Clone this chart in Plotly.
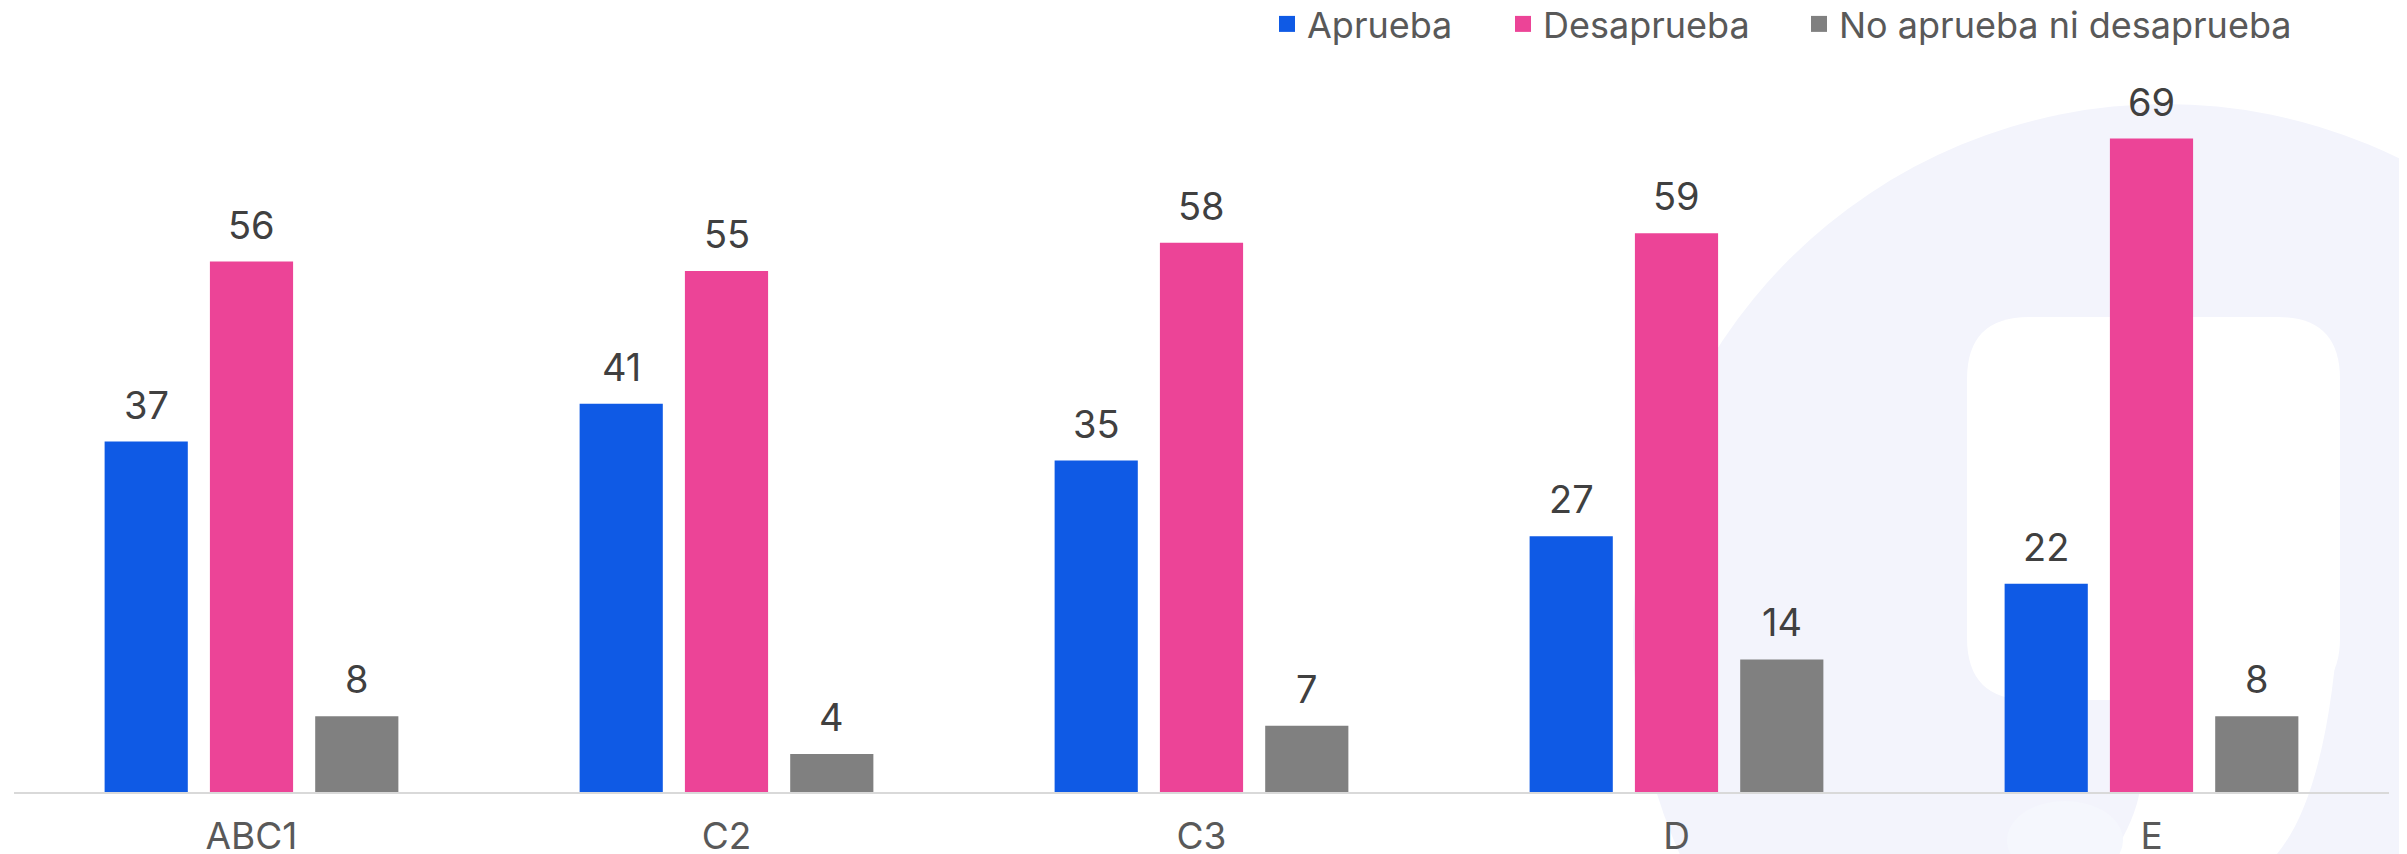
import plotly.graph_objects as go

# ---------------- data ----------------
categories = ["ABC1", "C2", "C3", "D", "E"]
aprueba = [37, 41, 35, 27, 22]
desaprueba = [56, 55, 58, 59, 69]
ni_ni = [8, 4, 7, 14, 8]
series_names = ["Aprueba", "Desaprueba", "No aprueba ni desaprueba"]
series_values = [aprueba, desaprueba, ni_ni]
series_colors = ["#0F5AE5", "#EC4497", "#808080"]

# ---------------- layout geometry (pixels) ----------------
# the page body has an 8px default margin, so the figure is shifted by OFF
OFF = 8
W, H = 2407 - OFF, 854 - OFF
ML, MR, MT, MB = 14 - OFF, 18, 40 - OFF, 62
PW, PH = W - ML - MR, H - MT - MB
BARGAP = 0.335
BARGROUPGAP = 0.21
YMAX = 79.4
FONT = "Inter, Roboto, Arial, sans-serif"
LEGEND_LEFT = [1279, 1515, 1811]  # page x of each legend swatch


def px(x):
    # page pixel x -> paper coordinate
    return (x - OFF - ML) / PW


def py(y):
    # page pixel y -> paper coordinate
    return (H - MB - (y - OFF)) / PH


fig = go.Figure()
legend_ids = ["legend", "legend2", "legend3"]

for name, vals, col, lid in zip(series_names, series_values, series_colors, legend_ids):
    fig.add_trace(go.Bar(
        x=categories, y=vals, name=name, marker=dict(color=col, line=dict(width=0)),
        showlegend=False, legendgroup=name, hoverinfo="x+y+name",
    ))
    fig.add_trace(go.Scatter(
        x=[None], y=[None], mode="markers", name=name, legendgroup=name, legend=lid,
        marker=dict(symbol="square", size=21, color=col), showlegend=True,
    ))

# data labels above bars
slot = (1 - BARGAP) * PW / len(categories) / len(series_names)
annotations = []
for i, vals in enumerate(series_values):
    for cat, v in zip(categories, vals):
        annotations.append(dict(
            x=cat, y=v, xref="x", yref="y", text=str(v), showarrow=False,
            xshift=(i - 1) * slot, yshift=12, yanchor="bottom",
            font=dict(family=FONT, size=38, color="#404040"),
        ))

# background watermark (logo-like shapes)
lav = "#F3F4FC"
shapes = [
    dict(type="circle", xref="paper", yref="paper", layer="below",
         x0=px(2165 - 532), x1=px(2165 + 532), y0=py(636 + 532), y1=py(636 - 532),
         fillcolor=lav, line=dict(width=0)),
]


def P(x, y):
    return f"{px(x):.5f},{py(y):.5f}"


rx0, rx1, ry0, ry1, rr = 1967, 2340, 317, 700, 62
rect_path = (f"M{P(rx0 + rr, ry0)} L{P(rx1 - rr, ry0)} Q{P(rx1, ry0)} {P(rx1, ry0 + rr)} "
             f"L{P(rx1, ry1 - rr)} Q{P(rx1, ry1)} {P(rx1 - rr, ry1)} "
             f"L{P(rx0 + rr, ry1)} Q{P(rx0, ry1)} {P(rx0, ry1 - rr)} "
             f"L{P(rx0, ry0 + rr)} Q{P(rx0, ry0)} {P(rx0 + rr, ry0)} Z")
stem_path = (f"M{P(2132, 690)} L{P(2340, 600)} Q{P(2330, 790)} {P(2277, 854)} "
             f"L{P(2113, 854)} Q{P(2135, 820)} {P(2140, 790)} Z")
shapes += [
    dict(type="path", xref="paper", yref="paper", layer="below", path=rect_path,
         fillcolor="#FFFFFF", line=dict(width=0)),
    dict(type="path", xref="paper", yref="paper", layer="below", path=stem_path,
         fillcolor="#FFFFFF", line=dict(width=0)),
    dict(type="circle", xref="paper", yref="paper", layer="below",
         x0=px(2007), x1=px(2123), y0=py(880), y1=py(801),
         fillcolor="#F5F7FD", line=dict(width=0)),
]


def legend_cfg(left):
    return dict(orientation="h", x=px(left - 12), xanchor="left", y=py(24), yanchor="middle",
                font=dict(family=FONT, size=36, color="#595959"),
                bgcolor="rgba(0,0,0,0)", itemclick=False, itemdoubleclick=False)


fig.update_layout(
    width=W, height=H,
    margin=dict(l=ML, r=MR, t=MT, b=MB, pad=0, autoexpand=False),
    paper_bgcolor="#FFFFFF", plot_bgcolor="rgba(0,0,0,0)",
    barmode="group", bargap=BARGAP, bargroupgap=BARGROUPGAP,
    font=dict(family=FONT, color="#595959"),
    showlegend=True,
    legend=legend_cfg(LEGEND_LEFT[0]),
    legend2=legend_cfg(LEGEND_LEFT[1]),
    legend3=legend_cfg(LEGEND_LEFT[2]),
    xaxis=dict(showline=True, linecolor="#D9D9D9", linewidth=2, ticks="",
               tickfont=dict(family=FONT, size=37, color="#595959"),
               showgrid=False, zeroline=False, ticklabelstandoff=11),
    yaxis=dict(visible=False, range=[0, YMAX], showgrid=False, zeroline=False),
    annotations=annotations,
    shapes=shapes,
)

fig.write_html("out.html")
